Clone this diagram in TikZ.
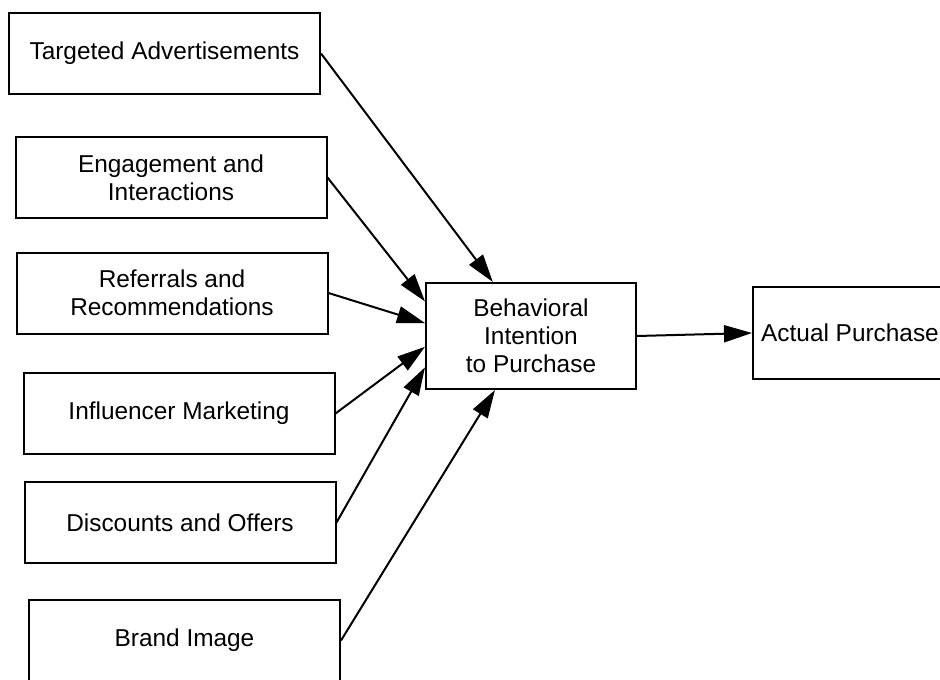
\documentclass[tikz,border=0pt]{standalone}
\usepackage{fontspec}
\setmainfont{Liberation Sans}
\usetikzlibrary{arrows.meta,calc}
\tikzset{
  factor/.style={draw=black,line width=1pt,fill=white,align=center,minimum width=155.5pt,minimum height=40.5pt,inner sep=3pt,font=\fontsize{12.2}{14}\selectfont},
  target/.style={factor,minimum width=105pt,minimum height=53pt},
  result/.style={factor,minimum width=97pt,minimum height=46pt},
  ar/.style={-{Triangle[length=14pt,width=8.5pt]},line width=1pt,draw=black},
}
\begin{document}
\begin{tikzpicture}[x=0.5pt,y=-0.5pt]
  \useasboundingbox (0,0) rectangle (940,679);
  \clip (0,0) rectangle (940,679);
  % influencing factors
  \node[factor] (ads) at (164.5,53.5) {Targeted Advertisements};
  \node[factor] (eng) at (171,177.5) {Engagement and\\Interactions};
  \node[factor] (ref) at (172,293) {Referrals and\\Recommendations};
  \node[factor] (inf) at (179,413.5) {Influencer Marketing};
  \node[factor] (disc) at (180,522.5) {Discounts and Offers};
  \node[factor] (brand) at (184.5,640.5) {Brand Image};
  % intention and outcome
  \node[target] (bip) at (531,336) {Behavioral\\Intention\\to Purchase};
  \node[result] (ap) at (850,333) {Actual Purchase};
  % arrows into the intention box
  \draw[ar] (ads.east) -- ($(bip.north west)!.32!(bip.north east)$);
  \draw[ar] (eng.east) -- ($(bip.north west)!.18!(bip.south west)$);
  \draw[ar] (ref.east) -- ($(bip.north west)!.38!(bip.south west)$);
  \draw[ar] (inf.east) -- ($(bip.north west)!.6!(bip.south west)$);
  \draw[ar] (disc.east) -- ($(bip.north west)!.79!(bip.south west)$);
  \draw[ar] (brand.east) -- ($(bip.south west)!.33!(bip.south east)$);
  \draw[ar] (bip.east) -- (ap.west);
\end{tikzpicture}
\end{document}
